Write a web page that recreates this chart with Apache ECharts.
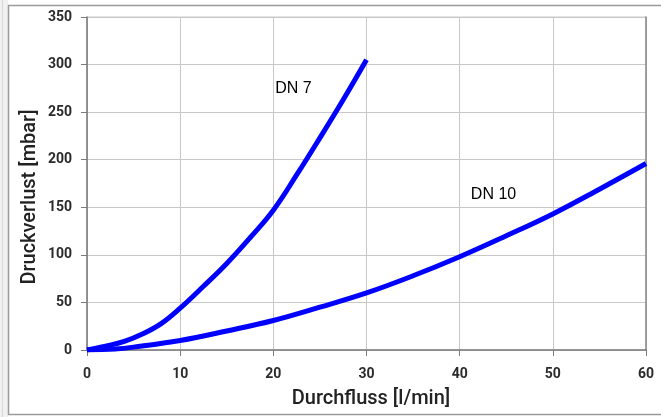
<!DOCTYPE html>
<html>
<head>
<meta charset="utf-8">
<script src="https://cdn.jsdelivr.net/npm/echarts@6/dist/echarts.min.js"></script>
<style>
  html, body { margin: 0; padding: 0; background: #ffffff; }
  #chart { width: 661px; height: 417px; }
</style>
</head>
<body>
<div id="chart"></div>
<script>
// Pressure loss vs. flow rate for two nominal diameters
const flowDN7 = [0, 2, 4, 6, 8, 10, 12.5, 15, 17.5, 20, 22.5, 25, 27.5, 30];
const lossDN7 = [0, 4, 9, 17, 28, 44, 67, 91, 118, 147, 184, 223, 263, 305];

const flowDN10 = [0, 3, 5, 10, 15, 20, 25, 30, 35, 40, 45, 50, 55, 60];
const lossDN10 = [0, 1, 3, 10, 20, 31, 45, 60, 78, 98, 120, 143, 169, 196];

const xTicks = [0, 10, 20, 30, 40, 50, 60];
const yTicks = [0, 50, 100, 150, 200, 250, 300, 350];

const curveLabels = [
  { name: 'DN 7', at: [20.2, 275] },
  { name: 'DN 10', at: [41.2, 163] }
];

const xTitle = 'Durchfluss [l/min]';
const yTitle = 'Druckverlust [mbar]';

const pairs = (xs, ys) => xs.map((x, i) => [x, ys[i]]);

const chart = echarts.init(document.getElementById('chart'));

const tickFont = {
  color: '#2b2b2b',
  fontFamily: 'Roboto',
  fontWeight: 'bold',
  fontSize: 14
};

const lineStyle = { color: '#0000ff', width: 5 };

chart.setOption({
  backgroundColor: '#ffffff',
  animation: false,
  grid: {
    left: 87, right: 15, top: 17, bottom: 67,
    show: true, borderColor: '#c8c8c8', borderWidth: 1
  },
  xAxis: {
    type: 'value',
    min: xTicks[0], max: xTicks[xTicks.length - 1], interval: 10,
    axisLine: { onZero: false, lineStyle: { color: '#7a7a7a', width: 1.5 } },
    axisTick: { show: true, length: 6, lineStyle: { color: '#7a7a7a' } },
    axisLabel: Object.assign({ margin: 17 }, tickFont),
    splitLine: { lineStyle: { color: '#c8c8c8', width: 1 } }
  },
  yAxis: [{
    type: 'value',
    min: yTicks[0], max: yTicks[yTicks.length - 1], interval: 50,
    axisLine: { show: true, onZero: false, lineStyle: { color: '#7a7a7a', width: 1.5 } },
    axisTick: { show: true, length: 6, lineStyle: { color: '#7a7a7a' } },
    axisLabel: Object.assign({ margin: 15 }, tickFont),
    splitLine: { lineStyle: { color: '#c8c8c8', width: 1 } }
  }, {
    type: 'value', position: 'right',
    min: yTicks[0], max: yTicks[yTicks.length - 1], interval: 50,
    axisLine: { show: true, onZero: false, lineStyle: { color: '#8a8a8a', width: 1.5 } },
    axisTick: { show: false }, axisLabel: { show: false }, splitLine: { show: false }
  }],
  series: [{
    name: 'DN 7',
    type: 'line',
    data: pairs(flowDN7, lossDN7),
    smooth: 0.4,
    showSymbol: false,
    lineStyle: lineStyle,
    z: 5
  }, {
    name: 'DN 10',
    type: 'line',
    data: pairs(flowDN10, lossDN10),
    smooth: 0.4,
    showSymbol: false,
    lineStyle: lineStyle,
    z: 5
  }, {
    name: 'labels',
    type: 'scatter',
    symbolSize: 0,
    data: curveLabels.map(l => ({ value: l.at, name: l.name })),
    label: {
      show: true,
      position: 'right',
      distance: 0,
      formatter: p => p.name,
      color: '#000000',
      fontFamily: 'Liberation Sans',
      fontSize: 16
    },
    itemStyle: { opacity: 1 },
    silent: true,
    z: 6
  }],
  graphic: [
    // outer frame
    { type: 'rect', left: 0, top: 0, silent: true, z: -10,
      shape: { x: 0, y: 0, width: 8, height: 417 },
      style: { fill: '#f1f1f1' } },
    { type: 'line', silent: true, z: -9,
      shape: { x1: 2.5, y1: 0, x2: 2.5, y2: 417 },
      style: { stroke: '#d8d8d8', lineWidth: 1 } },
    { type: 'rect', silent: true, z: -8,
      shape: { x: 8.5, y: 5.5, width: 700, height: 409 },
      style: { fill: null, stroke: '#9a9a9a', lineWidth: 1.5 } },
    // axis titles
    { type: 'text', silent: true,
      x: 371, y: 399,
      style: { text: xTitle, fill: '#222222', font: '500 20px Roboto',
               textAlign: 'center', textVerticalAlign: 'middle' } },
    { type: 'text', silent: true,
      x: 30, y: 197, rotation: Math.PI / 2,
      style: { text: yTitle, fill: '#222222', font: '500 20px Roboto',
               textAlign: 'center', textVerticalAlign: 'middle' } }
  ]
});
</script>
</body>
</html>
